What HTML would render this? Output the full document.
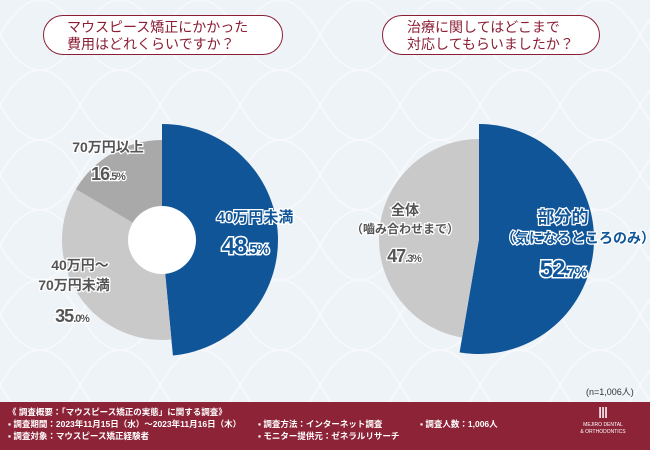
<!DOCTYPE html>
<html><head><meta charset="utf-8"><style>
html,body{margin:0;padding:0}
body{width:650px;height:450px;overflow:hidden;font-family:"Liberation Sans","Noto Sans CJK JP",sans-serif;background:#eef3f7;position:relative}
.q{position:absolute;top:15px;height:40px;border:1.5px solid #8a1f34;border-radius:22px;background:#fff;color:#8a1f34;font-size:14px;line-height:17px;box-sizing:border-box;padding:3px 0 0 0}
.foot{position:absolute;left:0;top:402px;width:650px;height:48px;background:#8c2337;color:#fff;font-size:8.5px;font-weight:bold}
.foot div{position:absolute;white-space:nowrap}
</style></head><body>
<svg width="650" height="402" style="position:absolute;left:0;top:0">
<defs><pattern id="p" width="80" height="70" patternUnits="userSpaceOnUse"><path d="M0 35 Q20 0 40 0 Q60 0 80 35 M0 35 Q20 70 40 70 Q60 70 80 35" fill="none" stroke="#fff" stroke-width="2" opacity=".45"/></pattern></defs>
<rect width="650" height="402" fill="url(#p)"/></svg>
<div class="q" style="left:43px;width:240px;padding-left:23px">マウスピース矯正にかかった<br>費用はどれくらいですか？</div>
<div class="q" style="left:382px;width:218px;padding-left:24px">治療に関してはどこまで<br>対応してもらいましたか？</div>
<svg id="ch" width="650" height="402" style="position:absolute;left:0;top:0"></svg>
<div style="position:absolute;left:586px;top:385px;font-size:9px;color:#333">(n=1,006人)</div>
<div class="foot">
<div style="left:8px;top:4px">《 調査概要：「マウスピース矯正の実態」に関する調査》</div>
<div style="left:8px;top:16px">▪ 調査期間：2023年11月15日（水）～2023年11月16日（木）</div>
<div style="left:8px;top:28px">▪ 調査対象：マウスピース矯正経験者</div>
<div style="left:258px;top:16px">▪ 調査方法：インターネット調査</div>
<div style="left:258px;top:28px">▪ モニター提供元：ゼネラルリサーチ</div>
<div style="left:420px;top:16px">▪ 調査人数：1,006人</div>
<div style="left:568px;top:4px;width:70px;text-align:center;font-size:5px;font-weight:normal;line-height:7px"><span style="font-size:15px;line-height:16px;font-family:'Liberation Serif',serif">Ⅲ</span><br>MEJIRO DENTAL<br>&amp; ORTHODONTICS</div>
</div>
<script>
const cats1=["40万円未満","40万円～70万円未満","70万円以上"];
const vals1=[48.5,35.0,16.5];
const cats2=["部分的","全体"];
const vals2=[52.7,47.3];
const svg=document.getElementById('ch');
const NS="http://www.w3.org/2000/svg";
function arc(cx,cy,r,a0,a1,fill,name){
 const p=document.createElementNS(NS,'path');
 const s=a=>[cx+r*Math.sin(a*2*Math.PI/100),cy-r*Math.cos(a*2*Math.PI/100)];
 const [x0,y0]=s(a0),[x1,y1]=s(a1);
 p.setAttribute('d',`M${cx} ${cy}L${x0} ${y0}A${r} ${r} 0 ${a1-a0>50?1:0} 1 ${x1} ${y1}Z`);
 p.setAttribute('fill',fill);
 
 
 svg.appendChild(p);
}
function txt(x,y,s,size,fill,stroke,name,pct){
 const t=document.createElementNS(NS,'text');
 t.setAttribute('x',x);t.setAttribute('y',y);t.setAttribute('text-anchor','middle');
 t.setAttribute('font-size',size);t.setAttribute('font-weight','bold');t.setAttribute('fill',fill);
 t.setAttribute('stroke',stroke);t.setAttribute('stroke-width',size>18?3:2.5);t.setAttribute('paint-order','stroke');
 t.setAttribute('letter-spacing',pct?'-1':'0');
 if(pct){
  const parts=s.split('.');
  t.appendChild(document.createTextNode(parts[0]));
  const sp=document.createElementNS(NS,'tspan');
  sp.setAttribute('font-size',size*0.6);
  sp.textContent='.'+parts[1];
  t.appendChild(sp);
 } else t.textContent=s;
 
 
 svg.appendChild(t);
}
// chart 1
let a=0;
const col1=["#0f5598","#c9c9c9","#a9a9a9"],rad1=[116,100,100];
vals1.forEach((v,i)=>{arc(162,240,rad1[i],a,a+v,col1[i],'slice-'+i);a+=v;});
const hole=document.createElementNS(NS,'circle');
hole.setAttribute('cx',162);hole.setAttribute('cy',240);hole.setAttribute('r',34);hole.setAttribute('fill','#fff');


svg.appendChild(hole);
txt(255,222,cats1[0],15,'#0f5598','#fff','label-under-40');
txt(245,254,vals1[0].toFixed(1)+'%',24,'#0f5598','#fff','value-under-40',true);
txt(80,270,'40万円～',14,'#555','#fff','label-40-70-a');
txt(74,290,'70万円未満',14,'#555','#fff','label-40-70-b');
txt(72,322,vals1[1].toFixed(1)+'%',18,'#555','#fff','value-40-70',true);
txt(108,152,cats1[2],14,'#555','#fff','label-over-70');
txt(108,180,vals1[2].toFixed(1)+'%',18,'#555','#fff','value-over-70',true);
// chart 2
a=0;
const col2=["#0f5598","#c9c9c9"],rad2=[115,100];
vals2.forEach((v,i)=>{arc(479,239,rad2[i],a,a+v,col2[i],'slice2-'+i);a+=v;});
txt(563,223,cats2[0],17,'#0f5598','#fff','label-partial');
txt(578,243,'（気になるところのみ）',14,'#0f5598','#fff','label-partial-sub');
txt(563,277,vals2[0].toFixed(1)+'%',24,'#0f5598','#fff','value-partial',true);
txt(405,215,cats2[1],14,'#555','#fff','label-full');
txt(405,233,'（嚙み合わせまで）',12,'#555','#fff','label-full-sub');
txt(404,262,vals2[1].toFixed(1)+'%',18,'#555','#fff','value-full',true);
</script>
</body></html>
